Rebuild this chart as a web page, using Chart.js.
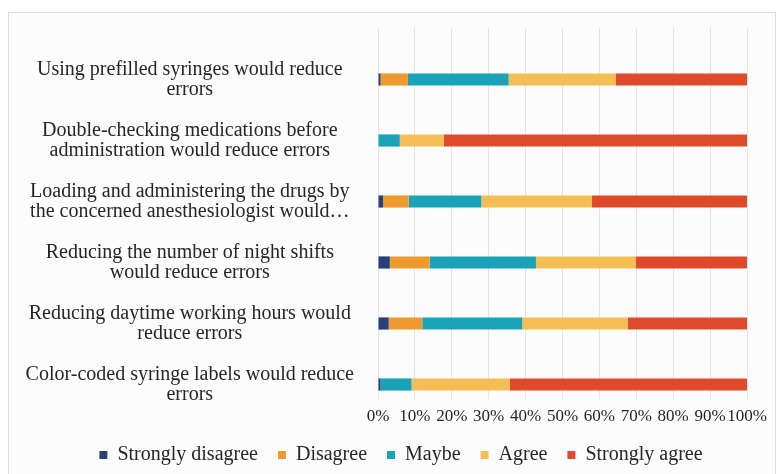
<!DOCTYPE html>
<html>
<head>
<meta charset="utf-8">
<script src="https://cdn.jsdelivr.net/npm/chart.js"></script>
<style>
  body { margin: 0; background: #fff; overflow: hidden; }
  #frame {
    position: absolute; left: 8px; top: 12px;
    width: 766px; height: 486px;
    border: 1px solid #dedede; background: #fcfcfc;
  }
</style>
</head>
<body>
<div id="frame"><canvas id="chart" width="766" height="486"></canvas></div>
<script>
'use strict';
// survey statements, top to bottom
const statements = [
  ['Using prefilled syringes would reduce', 'errors'],
  ['Double-checking medications before', 'administration would reduce errors'],
  ['Loading and administering the drugs by', 'the concerned anesthesiologist would\u2026'],
  ['Reducing the number of night shifts', 'would reduce errors'],
  ['Reducing daytime working hours would', 'reduce errors'],
  ['Color-coded syringe labels would reduce', 'errors']
];
const answers = ['Strongly disagree', 'Disagree', 'Maybe', 'Agree', 'Strongly agree'];

// percentages
const stronglyDisagree = [0.7, 0, 1.4, 3.2, 2.9, 0.7];
const disagree = [7.4, 0, 6.9, 10.8, 9.1, 0];
const maybe = [27.3, 5.9, 19.7, 28.8, 27.1, 8.4];
const agree = [29.1, 11.9, 30.0, 27.0, 28.6, 26.6];
const stronglyAgree = [35.5, 82.2, 42.0, 30.2, 32.3, 64.3];

const colors = ['#26417a', '#ee9a2e', '#1aa2b6', '#f4be55', '#df4a2b'];
const seriesData = [stronglyDisagree, disagree, maybe, agree, stronglyAgree];

const serif = '"Liberation Serif", serif';

// excel-ish tweaks: legend sits a bit right, gridlines run from above
// the first bar to just over the % labels, which hug the last bar
const layoutTweaks = {
  id: 'layoutTweaks',
  afterLayout(chart) {
    chart.legend.left += 23;
    chart.legend.right += 23;
    chart.chartArea.top = 15;
    chart.chartArea.bottom = 386;
    chart.chartArea.height = chart.chartArea.bottom - chart.chartArea.top;
    chart.scales.x.top -= 9;
    chart.scales.x.bottom += 6;
  }
};

const ctx = document.getElementById('chart').getContext('2d');
new Chart(ctx, {
  type: 'bar',
  data: {
    labels: statements,
    datasets: answers.map((name, i) => ({
      label: name,
      data: seriesData[i],
      backgroundColor: colors[i],
      borderWidth: 0,
      barPercentage: 0.2,
      categoryPercentage: 1
    }))
  },
  options: {
    indexAxis: 'y',
    responsive: false,
    animation: false,
    layout: { padding: { top: 34, right: 28, left: 0, bottom: 24 } },
    plugins: {
      tooltip: { enabled: false },
      legend: {
        position: 'bottom',
        labels: {
          boxWidth: 8,
          boxHeight: 8,
          padding: 20,
          color: '#262626',
          font: { family: serif, size: 20 }
        }
      }
    },
    scales: {
      x: {
        stacked: true,
        min: 0,
        max: 100,
        grid: { color: '#e4e4e4', drawTicks: false },
        border: { display: false },
        ticks: {
          stepSize: 10,
          autoSkip: false,
          maxRotation: 0,
          padding: 0,
          color: '#262626',
          font: { family: serif, size: 17 },
          callback: v => v + '%'
        },
        afterFit: scale => { scale.height = 10; }
      },
      y: {
        stacked: true,
        grid: { display: false },
        border: { display: false },
        ticks: {
          crossAlign: 'center',
          padding: 16,
          color: '#262626',
          font: { family: serif, size: 20, lineHeight: 1.0 }
        },
        afterFit: scale => { scale.width = 369; }
      }
    }
  },
  plugins: [layoutTweaks]
});
</script>
</body>
</html>
